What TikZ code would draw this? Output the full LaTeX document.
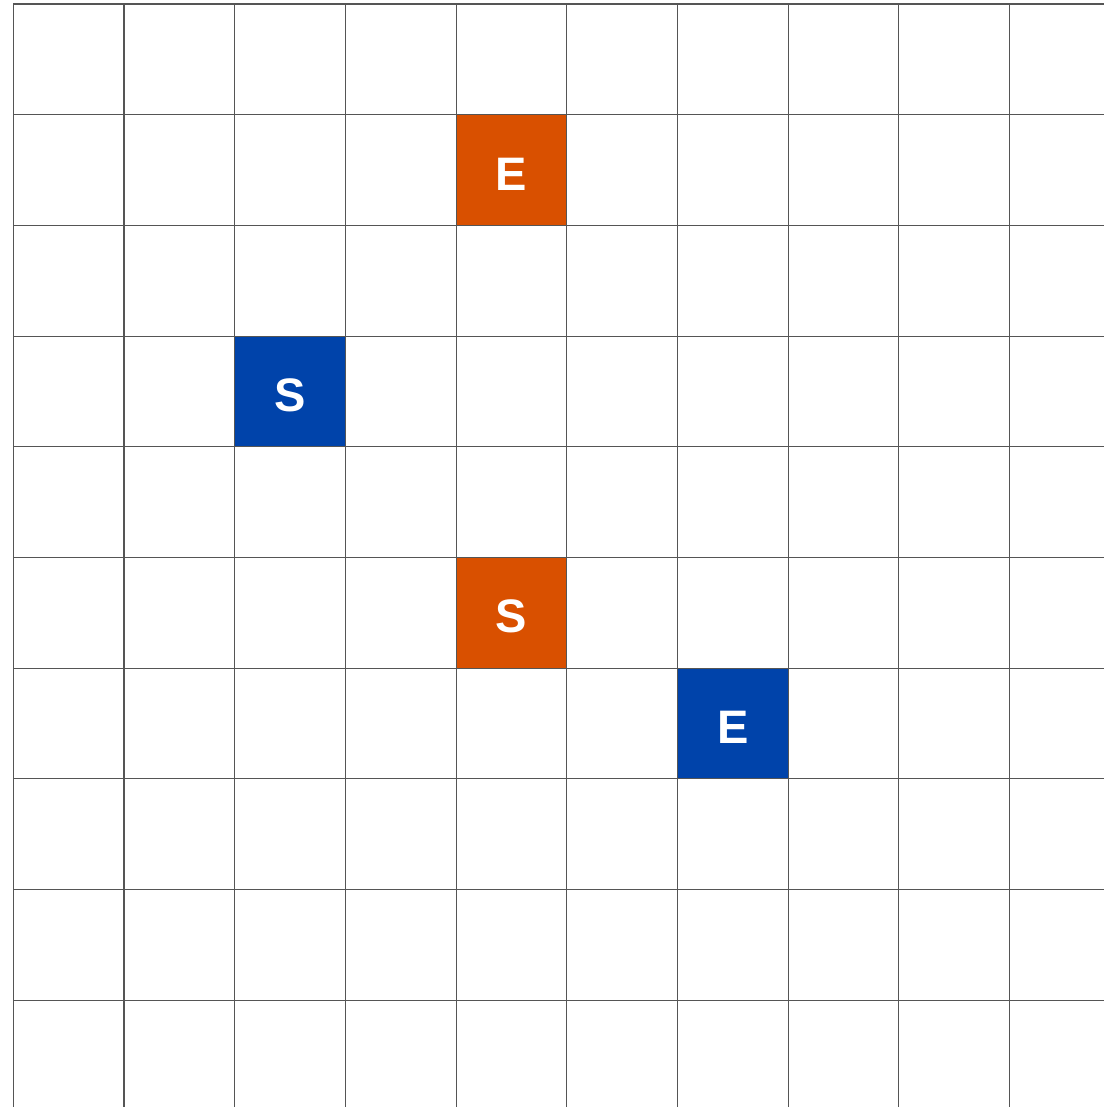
\documentclass[tikz,border=0pt]{standalone}
\usepackage{fontspec}
\setmainfont{Liberation Sans}
\definecolor{orangec}{RGB}{217,80,0}
\definecolor{bluec}{RGB}{0,67,170}
\definecolor{gridc}{RGB}{85,85,85}
\begin{document}
\begin{tikzpicture}[x=1pt,y=-1pt,
  cell/.style={minimum size=110.7pt, inner sep=0pt, draw=none, text=white,
    text height=40pt, text depth=0pt,
    font=\fontsize{47}{50}\selectfont\bfseries},
  gridline/.style={draw=gridc, line width=1.1pt}]
\useasboundingbox (0,0) rectangle (1104,1107);
\def\cs{110.7}
\node[cell, fill=orangec] (e1) at ({13.3+4.5*\cs},{4+1.5*\cs}) {E};
\node[cell, fill=bluec] (s1) at ({13.3+2.5*\cs},{4+3.5*\cs}) {S};
\node[cell, fill=orangec] (s2) at ({13.3+4.5*\cs},{4+5.5*\cs}) {S};
\node[cell, fill=bluec] (e2) at ({13.3+6.5*\cs},{4+6.5*\cs}) {E};
\foreach \i in {0,...,9} \draw[gridline] ({13.3+\i*\cs},4) -- ({13.3+\i*\cs},1107);
\foreach \j in {0,...,9} \draw[gridline] (13.3,{4+\j*\cs}) -- (1104,{4+\j*\cs});
\end{tikzpicture}
\end{document}
